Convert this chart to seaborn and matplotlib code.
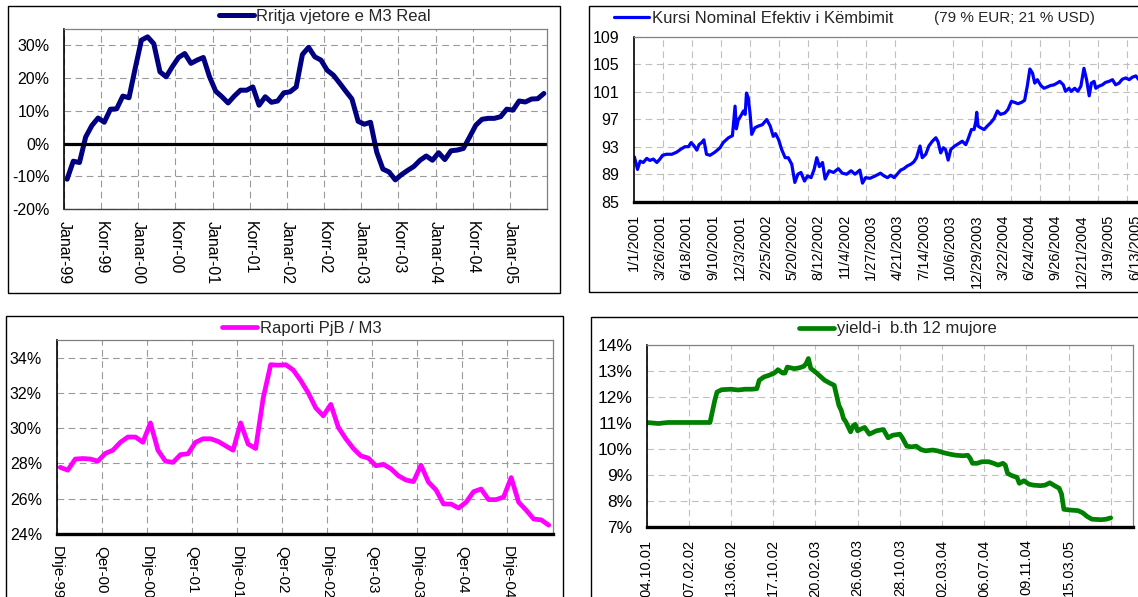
import matplotlib
matplotlib.use("Agg")
import matplotlib.pyplot as plt
from matplotlib.patches import Rectangle
from matplotlib.ticker import FuncFormatter, FixedLocator
import seaborn as sns

# ---------------- data ----------------
# Rritja vjetore e M3 Real, monthly Jan-1999 .. Jun-2005 (%)
m3_growth = [-10.9, -5.4, -5.8, 2.0, 5.5, 7.8, 6.5, 10.5, 10.6, 14.5,
             14.0, 23.0, 31.6, 32.6, 30.5, 21.9, 20.4, 23.5, 26.3, 27.5,
             24.5, 25.5, 26.3, 20.4, 16.0, 14.3, 12.4, 14.5, 16.3, 16.3,
             17.3, 11.7, 14.3, 12.6, 13.0, 15.5, 15.8, 17.3, 27.2, 29.4,
             26.5, 25.5, 22.4, 20.9, 18.5, 16.0, 13.6, 6.8, 5.9, 6.5,
             -2.6, -7.8, -8.7, -11.1, -9.5, -8.2, -7.0, -5.1, -3.8, -5.1,
             -2.8, -4.9, -2.2, -2.0, -1.5, 2.0, 5.6, 7.4, 7.7, 7.7,
             8.2, 10.5, 10.2, 13.0, 12.7, 13.6, 13.7, 15.3]
m3_ticklabels = ['Janar-99', 'Korr-99', 'Janar-00', 'Korr-00', 'Janar-01', 'Korr-01',
                 'Janar-02', 'Korr-02', 'Janar-03', 'Korr-03', 'Janar-04', 'Korr-04',
                 'Janar-05']

# Kursi Nominal Efektiv i Kembimit, index by business day since 1/1/2001
neer_day = [1, 8, 14, 21, 29, 36, 44, 52, 59, 65, 74, 86, 97, 108, 116, 124, 130, 137, 143, 148,
            154, 159, 165, 173, 184, 196, 203, 215, 224, 230, 233, 237, 245, 249, 253, 256, 260,
            264, 268, 275, 283, 292, 302, 310, 317, 322, 329, 336, 344, 351, 359, 366, 373, 380,
            388, 395, 403, 410, 416, 422, 429, 435, 444, 454, 465, 474, 484, 494, 503, 514, 520,
            527, 537, 549, 561, 569, 577, 584, 592, 599, 607, 614, 622, 630, 637, 643, 651, 656,
            664, 671, 679, 687, 692, 698, 704, 709, 715, 721, 730, 740, 747, 755, 760, 768, 774,
            778, 780, 783, 789, 797, 804, 812, 819, 827, 834, 844, 851, 859, 866, 874, 882, 889,
            895, 901, 907, 912, 918, 926, 933, 941, 948, 956, 963, 969, 977, 982, 990, 995, 1003,
            1010, 1017, 1024, 1030, 1036, 1041, 1047, 1051, 1058, 1066, 1073, 1081, 1089, 1096,
            1104, 1111, 1119, 1127, 1134, 1142, 1149]
neer_value = [91.5, 89.7, 90.9, 90.7, 91.3, 91.0, 91.2, 90.7, 91.2, 91.75, 91.9, 91.9, 92.2, 92.7,
              93.0, 93.0, 93.6, 93.1, 92.5, 93.3, 93.6, 94.0, 91.9, 91.75, 92.2, 92.85, 93.6, 94.3,
              94.6, 98.9, 95.6, 96.85, 97.7, 98.2, 97.7, 100.8, 100.1, 97.9, 94.8, 95.75, 96.0,
              96.2, 96.95, 96.0, 94.5, 94.9, 94.05, 92.6, 91.4, 91.4, 90.45, 87.8, 89.0, 89.25,
              88.0, 88.75, 88.5, 89.7, 91.4, 90.1, 90.7, 88.3, 89.5, 89.25, 89.8, 89.15, 89.0,
              89.5, 89.0, 89.6, 87.7, 88.5, 88.4, 88.75, 89.15, 88.75, 88.5, 88.85, 88.5, 89.0,
              89.6, 89.8, 90.2, 90.45, 90.8, 91.4, 93.1, 91.4, 91.9, 93.1, 93.8, 94.3, 93.7, 92.1,
              92.85, 92.6, 91.05, 92.6, 93.1, 93.5, 93.8, 93.3, 94.05, 95.5, 95.5, 96.7, 98.0,
              96.0, 95.75, 95.5, 96.0, 96.5, 97.05, 98.2, 97.7, 97.9, 98.4, 99.6, 99.45, 99.25,
              99.45, 99.75, 101.8, 104.3, 103.7, 102.25, 102.75, 101.9, 101.5, 101.7, 101.9,
              102.0, 102.25, 102.5, 102.0, 101.05, 101.5, 101.05, 101.5, 101.05, 101.8, 104.4,
              102.75, 100.4, 102.25, 102.5, 101.5, 101.8, 102.0, 102.35, 102.5, 102.75, 102.0,
              102.25, 102.8, 103.0, 102.75, 103.1, 103.3, 102.75]
neer_ticklabels = ['1/1/2001', '3/26/2001', '6/18/2001', '9/10/2001', '12/3/2001', '2/25/2002',
                   '5/20/2002', '8/12/2002', '11/4/2002', '1/27/2003', '4/21/2003', '7/14/2003',
                   '10/6/2003', '12/29/2003', '3/22/2004', '6/24/2004', '9/26/2004', '12/21/2004',
                   '3/19/2005', '6/13/2005']

# Raporti PjB / M3, monthly Dec-1999 .. May-2005 (%)
pjb_ratio = [27.78, 27.62, 28.25, 28.28, 28.25, 28.13, 28.57, 28.75, 29.2, 29.5,
             29.5, 29.2, 30.3, 28.75, 28.13, 28.06, 28.5, 28.55, 29.2, 29.4,
             29.4, 29.25, 29.0, 28.75, 30.3, 29.1, 28.85, 31.7, 33.6, 33.57,
             33.6, 33.3, 32.7, 32.0, 31.15, 30.7, 31.35, 30.05, 29.4, 28.85,
             28.43, 28.3, 27.87, 27.95, 27.7, 27.3, 27.06, 26.97, 27.9, 26.94,
             26.5, 25.7, 25.7, 25.47, 25.8, 26.4, 26.55, 25.95, 25.95, 26.1,
             27.2, 25.8, 25.35, 24.85, 24.8, 24.5]
pjb_ticklabels = ['Dhje-99', 'Qer-00', 'Dhje-00', 'Qer-01', 'Dhje-01', 'Qer-02',
                  'Dhje-02', 'Qer-03', 'Dhje-03', 'Qer-04', 'Dhje-04']

# yield-i i bonove te thesarit 12 mujore, weekly auctions since 04.10.2001 (%)
tb_week = [0, 5, 9, 16, 23, 27, 28, 29, 30, 32, 36, 39, 42, 45, 47, 48, 50, 52, 54, 55,
           56, 58, 59, 60, 63, 65, 67, 68, 69, 70, 72, 74, 76, 78, 80, 81, 82, 83, 84, 85,
           87, 88, 89, 90, 91, 93, 95, 98, 101, 103, 105, 108, 109, 111, 113, 115, 117, 119,
           122, 124, 127, 130, 132, 135, 137, 138, 139, 141, 143, 146, 148, 150, 152, 153,
           154, 156, 158, 159, 161, 163, 165, 168, 170, 172, 174, 176, 177, 178, 181, 184,
           186, 188, 190, 194, 196, 198]
tb_yield = [11.02, 10.98, 11.02, 11.02, 11.02, 11.02, 11.43, 11.85, 12.19, 12.28,
            12.30, 12.27, 12.30, 12.30, 12.32, 12.64, 12.77, 12.83, 12.90, 12.96,
            13.05, 12.92, 12.92, 13.15, 13.09, 13.12, 13.18, 13.28, 13.48, 13.10,
            12.96, 12.80, 12.64, 12.54, 12.45, 12.07, 11.68, 11.49, 11.17, 11.04,
            10.66, 10.88, 10.95, 10.70, 10.75, 10.83, 10.57, 10.70, 10.75, 10.43,
            10.53, 10.57, 10.44, 10.11, 10.08, 10.11, 9.98, 9.93, 9.96, 9.93,
            9.85, 9.79, 9.76, 9.74, 9.76, 9.64, 9.45, 9.45, 9.51, 9.51,
            9.45, 9.38, 9.45, 9.38, 9.06, 8.97, 8.91, 8.68, 8.78, 8.65,
            8.61, 8.59, 8.61, 8.70, 8.59, 8.49, 8.27, 7.68, 7.65, 7.63,
            7.55, 7.40, 7.30, 7.28, 7.30, 7.35]
tb_ticklabels = ['04.10.01', '07.02.02', '13.06.02', '17.10.02', '20.02.03', '26.06.03',
                 '28.10.03', '02.03.04', '06.07.04', '09.11.04', '15.03.05']

# ---------------- layout ----------------
W, H = 1138, 597
sns.set_theme(style="white")
plt.rcParams['font.family'] = ['Liberation Sans', 'DejaVu Sans']

fig = plt.figure(figsize=(W / 100, H / 100), dpi=100)
fig.patch.set_facecolor('white')


def px_axes(left, top, right, bottom):
    return fig.add_axes([left / W, 1 - bottom / H, (right - left) / W, (bottom - top) / H])


def frame(left, top, right, bottom):
    fig.add_artist(Rectangle((left / W, 1 - bottom / H), (right - left) / W, (bottom - top) / H,
                             transform=fig.transFigure, fill=False, ec='black', lw=1.0))


def pct(v, _pos):
    return f"{v:.0f}%"


DASH = (0, (6, 4))


def style_axes(ax, bottom_lw, bottom_color='black'):
    ax.set_facecolor('white')
    for side in ('top', 'right'):
        ax.spines[side].set_color('#808080')
        ax.spines[side].set_linewidth(0.9)
    ax.spines['left'].set_color('black')
    ax.spines['left'].set_linewidth(1.2)
    ax.spines['bottom'].set_color(bottom_color)
    ax.spines['bottom'].set_linewidth(bottom_lw)
    ax.tick_params(axis='both', which='major', length=3, width=0.8, color='black',
                   direction='out', labelcolor='black')
    ax.tick_params(axis='y', pad=7.5)
    ax.tick_params(axis='x', pad=6)
    ax.tick_params(which='minor', length=0)
    ax.set_xlabel('')
    ax.set_ylabel('')
    ax.set_axisbelow(True)


frame(8, 6, 560, 293)
frame(589, 6, 1160, 292)
frame(6, 316, 563, 610)
frame(591, 317, 1160, 610)

# ---- top left: M3 real growth ----
ax1 = px_axes(64, 29, 547, 209)
m_idx = [i + 0.5 for i in range(len(m3_growth))]
sns.lineplot(x=m_idx, y=m3_growth, ax=ax1, color='#000080', linewidth=3.6,
             estimator=None, label='Rritja vjetore e M3 Real',
             solid_joinstyle='round', solid_capstyle='round')
ax1.set_xlim(0, len(m3_growth))
ax1.set_ylim(-20, 35)
ax1.set_yticks([-20, -10, 0, 10, 20, 30])
ax1.yaxis.set_major_formatter(FuncFormatter(pct))
ax1.set_xticks([6 * k for k in range(len(m3_ticklabels))])
ax1.set_xticklabels(m3_ticklabels, rotation=-90, ha='center', va='top', fontsize=11.5)
ax1.tick_params(axis='y', labelsize=11.5)
style_axes(ax1, 1.0, '#404040')
ax1.grid(True, axis='both', which='major', color='#9a9a9a', linestyle=DASH, linewidth=0.8)
ax1.axhline(0, color='black', linewidth=2.3, zorder=2)
ax1.legend(loc='center left', bbox_to_anchor=(219 / W, 1 - 16.7 / H),
           bbox_transform=fig.transFigure, frameon=False, fontsize=12,
           handlelength=2.1, handletextpad=0.15, borderpad=0, borderaxespad=0)

# ---- top right: nominal effective exchange rate ----
ax2 = px_axes(634, 36.7, 634 + 1180 * 29 / 66, 201.7)
sns.lineplot(x=neer_day, y=neer_value, ax=ax2, color='#0000FF', linewidth=2.3,
             estimator=None, label='Kursi Nominal Efektiv i Këmbimit',
             solid_joinstyle='round')
ax2.set_xlim(0, 1180)
ax2.set_ylim(85, 109)
ax2.set_yticks([85, 89, 93, 97, 101, 105, 109])
ax2.set_xticks([60 * k for k in range(len(neer_ticklabels))])
ax2.set_xticklabels(neer_ticklabels, rotation=90, ha='center', va='top', fontsize=10.5)
ax2.xaxis.set_minor_locator(FixedLocator([66 * k for k in range(1, 18)]))
ax2.tick_params(axis='y', labelsize=11.5)
style_axes(ax2, 2.4)
ax2.grid(True, axis='y', which='major', color='#c0c0c0', linestyle=DASH, linewidth=0.8)
ax2.grid(True, axis='x', which='minor', color='#c0c0c0', linestyle=DASH, linewidth=0.8)
ax2.grid(False, axis='x', which='major')
ax2.legend(loc='center left', bbox_to_anchor=(613.5 / W, 1 - 18.3 / H),
           bbox_transform=fig.transFigure, frameon=False, fontsize=12,
           handlelength=2.1, handletextpad=0.2, borderpad=0, borderaxespad=0)
fig.text(934 / W, 1 - 18.3 / H, '(79 % EUR; 21 % USD)', ha='left', va='center', fontsize=11)

# ---- bottom left: PjB / M3 ratio ----
ax3 = px_axes(56.5, 340, 552.5, 534)
p_idx = [i + 0.5 for i in range(len(pjb_ratio))]
sns.lineplot(x=p_idx, y=pjb_ratio, ax=ax3, color='#FF00FF', linewidth=3.4,
             estimator=None, label='Raporti PjB / M3',
             solid_joinstyle='round', solid_capstyle='round')
ax3.set_xlim(0, len(pjb_ratio))
ax3.set_ylim(24, 35)
ax3.set_yticks([24, 26, 28, 30, 32, 34])
ax3.yaxis.set_major_formatter(FuncFormatter(pct))
ax3.set_xticks([6 * k for k in range(len(pjb_ticklabels))])
ax3.set_xticklabels(pjb_ticklabels, rotation=-90, ha='center', va='top', fontsize=11)
ax3.tick_params(axis='y', labelsize=11.5)
style_axes(ax3, 2.4)
ax3.grid(True, axis='both', which='major', color='#9a9a9a', linestyle=DASH, linewidth=0.8)
ax3.legend(loc='center left', bbox_to_anchor=(222 / W, 1 - 328.7 / H),
           bbox_transform=fig.transFigure, frameon=False, fontsize=12,
           handlelength=2.1, handletextpad=0.15, borderpad=0, borderaxespad=0)

# ---- bottom right: 12-month T-bill yield ----
ax4 = px_axes(646.7, 345, 1133, 527)
sns.lineplot(x=tb_week, y=tb_yield, ax=ax4, color='#008000', linewidth=3.4,
             estimator=None, label='yield-i  b.th 12 mujore',
             solid_joinstyle='round', solid_capstyle='round')
ax4.set_xlim(0, 207.5)
ax4.set_ylim(7, 14)
ax4.set_yticks(list(range(7, 15)))
ax4.yaxis.set_major_formatter(FuncFormatter(pct))
ax4.set_xticks([18 * k for k in range(len(tb_ticklabels))])
ax4.set_xticklabels(tb_ticklabels, rotation=90, ha='center', va='top', fontsize=10.5)
ax4.xaxis.set_minor_locator(FixedLocator([18 * 11]))
ax4.tick_params(axis='y', labelsize=12.5)
style_axes(ax4, 2.4)
ax4.grid(True, axis='both', which='both', color='#c0c0c0', linestyle=DASH, linewidth=0.8)
ax4.legend(loc='center left', bbox_to_anchor=(799 / W, 1 - 329 / H),
           bbox_transform=fig.transFigure, frameon=False, fontsize=12,
           handlelength=2.1, handletextpad=0.2, borderpad=0, borderaxespad=0)

fig.savefig('out.png', dpi=100, facecolor='white')
